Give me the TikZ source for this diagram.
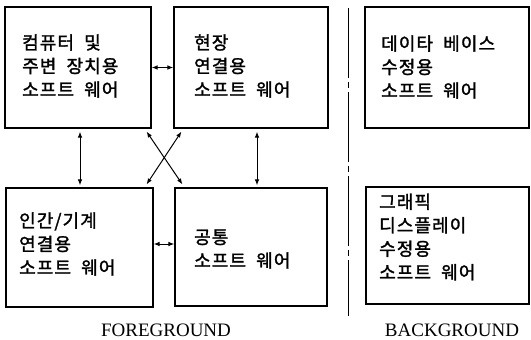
\documentclass[tikz,border=0pt]{standalone}
\usepackage{fontspec}
\newfontfamily\krfont[LetterSpace=6,WordSpace=2,FakeBold=1.6]{Noto Sans CJK KR}
\newfontfamily\lblfont{Liberation Serif}
\usetikzlibrary{arrows.meta,calc}
\begin{document}
\begin{tikzpicture}[x=1pt,y=-1pt,
  box/.style={draw,line width=1.1pt,inner sep=0pt},
  txt/.style={anchor=west,align=left,inner sep=0pt,font=\krfont\fontsize{18}{23.5}\selectfont},
  lbl/.style={anchor=base,inner sep=0pt,font=\lblfont\fontsize{19}{20}\selectfont},
  dbl/.style={{Latex[length=6pt,width=4.5pt]}-{Latex[length=6pt,width=4.5pt]},line width=1pt}]
\useasboundingbox (0,0) rectangle (531,340);
% boxes
\node[box,minimum width=146pt,minimum height=121pt] (b1) at (78,67.5) {};
\node[box,minimum width=154pt,minimum height=121pt] (b2) at (251,67.5) {};
\node[box,minimum width=147pt,minimum height=119pt] (b3) at (79.5,247.5) {};
\node[box,minimum width=152pt,minimum height=118pt] (b4) at (251,247) {};
\node[box,minimum width=164pt,minimum height=121pt] (b5) at (447,67.5) {};
\node[box,minimum width=163pt,minimum height=117pt] (b6) at (447.5,245.5) {};
% texts
\node[txt] (t1) at (22,66) {컴퓨터 및\\주변 장치용\\소프트 웨어};
\node[txt] (t2) at (194,66) {현장\\연결용\\소프트 웨어};
\node[txt] (t3) at (19,244) {인간/기계\\연결용\\소프트 웨어};
\node[txt] (t4) at (194,249) {공통\\소프트 웨어};
\node[txt] (t5) at (381,67) {데이타 베이스\\수정용\\소프트 웨어};
\node[txt] (t6) at (379,237) {그래픽\\디스플레이\\수정용\\소프트 웨어};
% labels
\node[lbl] (fg) at (166,336) {FOREGROUND};
\node[lbl] (bg) at (452,336) {BACKGROUND};
% divider
\coordinate (d1) at (348,8);
\coordinate (d2) at (348,316);
\draw[line width=1pt,dash pattern=on 70pt off 4pt on 6pt off 4pt] (d1) -- (d2);
% horizontal arrows
\draw[dbl] (b1.east) -- (b2.west);
\draw[dbl] (b3.east |- 0,244) -- (b4.west |- 0,244);
% vertical arrows
\draw[dbl,shorten <=3pt,shorten >=2pt] (b1.south -| 80,0) -- (b3.north -| 80,0);
\draw[dbl,shorten <=3pt,shorten >=2pt] (b2.south -| 257,0) -- (b4.north -| 257,0);
% cross arrows
\draw[dbl] ($(b1.south east)+(-5,3)$) -- ($(b4.north west)+(8,-3)$);
\draw[dbl] ($(b2.south west)+(8,3)$) -- ($(b3.north east)+(-7,-3)$);
\end{tikzpicture}
\end{document}
